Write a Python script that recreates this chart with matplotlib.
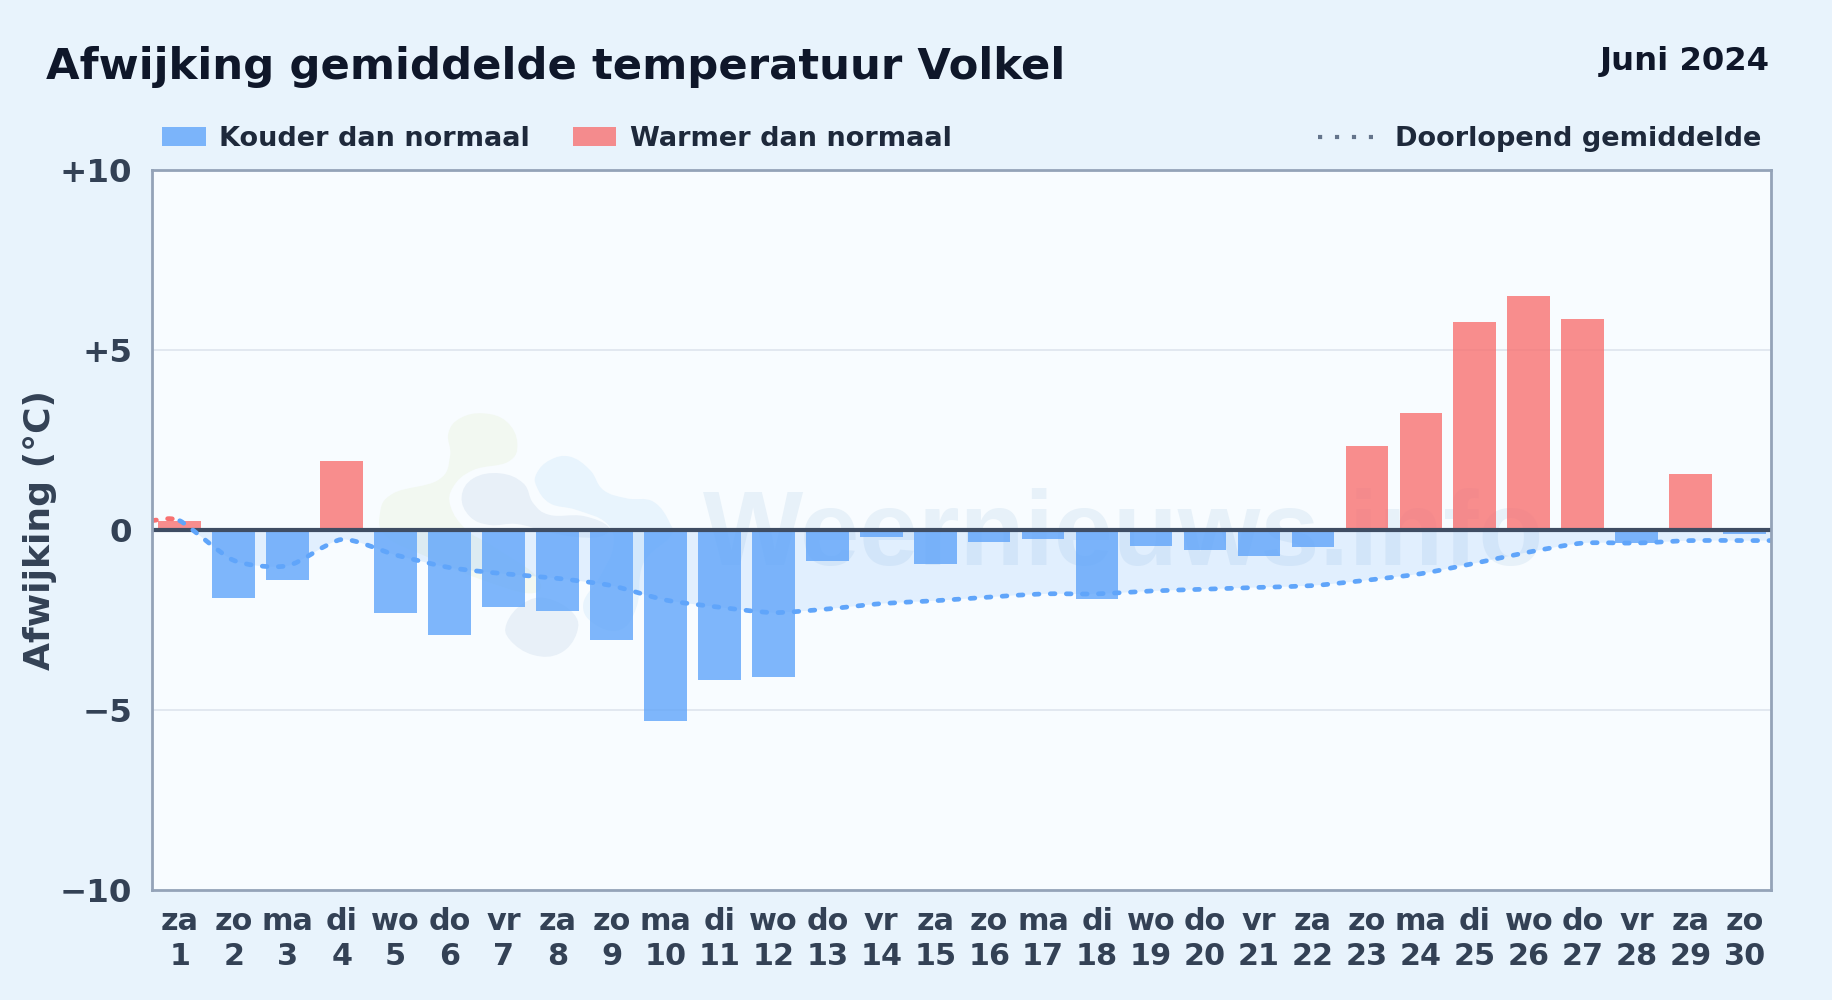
import numpy as np
import matplotlib
matplotlib.use("Agg")
from matplotlib import pyplot as plt
from matplotlib.path import Path
from matplotlib.patches import PathPatch, Rectangle
from matplotlib.transforms import Affine2D

plt.rcParams["font.family"] = ["DejaVu Sans"]

W, H = 1832, 1000
DPI = 200

weekdays = ["za", "zo", "ma", "di", "wo", "do", "vr", "za", "zo", "ma", "di", "wo", "do", "vr", "za",
            "zo", "ma", "di", "wo", "do", "vr", "za", "zo", "ma", "di", "wo", "do", "vr", "za", "zo"]
days = list(range(1, 31))
deviation = [0.25, -1.9, -1.4, 1.9, -2.3, -2.92, -2.15, -2.25, -3.07, -5.3, -4.17, -4.08, -0.87, -0.2, -0.95,
             -0.33, -0.25, -1.93, -0.45, -0.55, -0.72, -0.47, 2.32, 3.25, 5.77, 6.5, 5.85, -0.38, 1.55, -0.12]
running_mean = [0.25, -0.85, -1.0, -0.27, -0.7, -1.05, -1.22, -1.35, -1.55, -1.95, -2.15, -2.3, -2.2, -2.05, -1.97,
                -1.87, -1.78, -1.78, -1.7, -1.65, -1.6, -1.55, -1.4, -1.22, -0.93, -0.62, -0.37, -0.37, -0.3, -0.3]
y_ticks = [10, 5, 0, -5, -10]
y_tick_labels = ["+10", "+5", "0", "\u22125", "\u221210"]

BLUE = "#60a5fa"
RED = "#f87171"
TEXT = "#334155"
DARK = "#1e293b"
TITLE = "#0f172a"
BG = "#e8f3fc"


def smooth_path(xs, ys, tension=0.2, closed=False):
    # catmull-rom through the given points, written as bezier pieces
    pts = np.column_stack([xs, ys])
    n = len(pts)
    verts = [pts[0]]
    codes = [Path.MOVETO]
    for i in range(n if closed else n - 1):
        if closed:
            p0, p1, p2, p3 = pts[(i - 1) % n], pts[i], pts[(i + 1) % n], pts[(i + 2) % n]
        else:
            p0, p1, p2, p3 = pts[max(i - 1, 0)], pts[i], pts[i + 1], pts[min(i + 2, n - 1)]
        verts += [p1 + (p2 - p0) * tension, p2 - (p3 - p1) * tension, p2]
        codes += [Path.CURVE4] * 3
    return verts, codes


fig = plt.figure(figsize=(W / DPI, H / DPI), dpi=DPI, facecolor=BG)
ax = fig.add_axes([151.7 / W, 1 - 890 / H, (1770.5 - 151.7) / W, (890 - 169.5) / H], facecolor="#f8fcff")
px = Affine2D().scale(1, -1).translate(0, H)  # reference pixels to display


def ftext(x, y, s, **kw):
    fig.text(x / W, 1 - y / H, s, fontweight="bold", **kw)


# watermark behind everything
blobs = [
    ("#f2f8f1", [(370, 70), (440, 95), (472, 160), (445, 215), (340, 240), (280, 290), (272, 350), (320, 420),
                 (400, 470), (530, 560), (510, 610), (340, 560), (200, 500), (80, 440), (60, 370), (100, 310),
                 (235, 270), (270, 200), (265, 130), (300, 85)]),
    ("#e8f4fd", [(530, 250), (570, 210), (630, 200), (690, 240), (730, 300), (800, 325), (880, 335), (930, 400),
                 (930, 440), (850, 520), (830, 650), (780, 720), (700, 700), (670, 640), (720, 560), (760, 470),
                 (740, 400), (650, 360), (570, 340), (530, 290)]),
    ("#e8f0f8", [(305, 320), (340, 265), (420, 250), (490, 280), (520, 340), (570, 375), (670, 378), (745, 410),
                 (720, 440), (640, 440), (560, 425), (470, 402), (390, 405), (330, 380)]),
    ("#e8f0f8", [(440, 700), (490, 640), (560, 625), (640, 670), (650, 730), (600, 790), (520, 795), (450, 750)]),
]
for col, outline in blobs:
    o = np.array(outline, dtype=float)
    v, c = smooth_path(360 + o[:, 0] / 3, 390 + o[:, 1] / 3, closed=True)
    ax.add_patch(PathPatch(Path(v, c), fc=col, ec="none", transform=px, zorder=0.3))
ax.text(703, H - 565, "Weernieuws.info", family="Liberation Sans", fontweight="bold", fontsize=38.2, color="#e7f1f9",
        ha="left", va="baseline", transform=Affine2D(), zorder=0.4, clip_on=True)

ax.set_xlim(0.48, 30.48)
ax.set_ylim(-10, 10)

for g in (5, -5):
    ax.axhline(g, color="#e2e8f0", lw=0.7, zorder=0.6)

# running mean, carried to both edges of the plot
line_x = [0.48] + days + [30.48]
line_y = [running_mean[0]] + running_mean + [running_mean[-1]]
verts, codes = smooth_path(line_x, line_y, tension=0.12)

fill_v = verts + [(30.48, 0), (0.48, 0), verts[0]]
fill_c = codes + [Path.LINETO, Path.LINETO, Path.CLOSEPOLY]
area = PathPatch(Path(fill_v, fill_c), fc=BLUE, ec="none", alpha=0.15, zorder=0.8)
ax.add_patch(area)
area.set_clip_path(Rectangle((0.48, -10), 30, 10, transform=ax.transData))

bar_colors = [RED if d > 0 else BLUE for d in deviation]
ax.bar(days, deviation, width=0.79, color=bar_colors, alpha=0.8, zorder=1)

ax.axhline(0, color="#3f4d63", lw=1.5, zorder=2)

dash = (0, (1.0, 2.4))
ax.add_patch(PathPatch(Path(verts[:4], codes[:4]), fill=False, ec=RED, lw=1.7, linestyle=dash,
                       capstyle="round", zorder=3))
ax.add_patch(PathPatch(Path(verts[3:], [Path.MOVETO] + codes[4:]), fill=False, ec=BLUE, lw=1.7, linestyle=dash,
                       capstyle="round", zorder=3))

for s in ax.spines.values():
    s.set_color("#94a3b8")
    s.set_linewidth(1.0)
    s.set_zorder(4)

ax.set_yticks(y_ticks)
ax.set_yticklabels(y_tick_labels, fontweight="bold", fontsize=11.7, color=TEXT)
ax.set_xticks(days)
ax.set_xticklabels([f"{w}\n{d}" for w, d in zip(weekdays, days)], fontweight="bold", fontsize=10.9, color=TEXT,
                   linespacing=1.26)
ax.tick_params(axis="y", length=0, pad=7)
ax.tick_params(axis="x", length=0, pad=6)

ftext(40, 530, "Afwijking (\u00b0C)", fontsize=13, color=TEXT, rotation=90, ha="center", va="center")
ftext(46, 79, "Afwijking gemiddelde temperatuur Volkel", fontsize=15.6, color=TITLE, ha="left", va="baseline")
ftext(1770, 70, "Juni 2024", fontsize=11.6, color=TITLE, ha="right", va="baseline")

# legend drawn by hand, the groups sit left and right
fig.add_artist(Rectangle((162 / W, 1 - 146 / H), 44 / W, 19 / H, fc=BLUE, alpha=0.8, ec="none", transform=fig.transFigure))
fig.add_artist(Rectangle((573 / W, 1 - 146 / H), 43 / W, 19 / H, fc=RED, alpha=0.8, ec="none", transform=fig.transFigure))
ftext(219, 146, "Kouder dan normaal", fontsize=9.75, color=DARK, ha="left", va="baseline")
ftext(630, 146, "Warmer dan normaal", fontsize=9.75, color=DARK, ha="left", va="baseline")
ftext(1395, 146, "Doorlopend gemiddelde", fontsize=9.75, color=DARK, ha="left", va="baseline")
fig.add_artist(plt.Line2D([1318 / W, 1373 / W], [1 - 136.5 / H] * 2, color="#64748b", lw=1.5, linestyle=(0, (1, 3.07)),
                          dash_capstyle="butt", transform=fig.transFigure))

fig.savefig("out.png", dpi=DPI, facecolor=BG)
